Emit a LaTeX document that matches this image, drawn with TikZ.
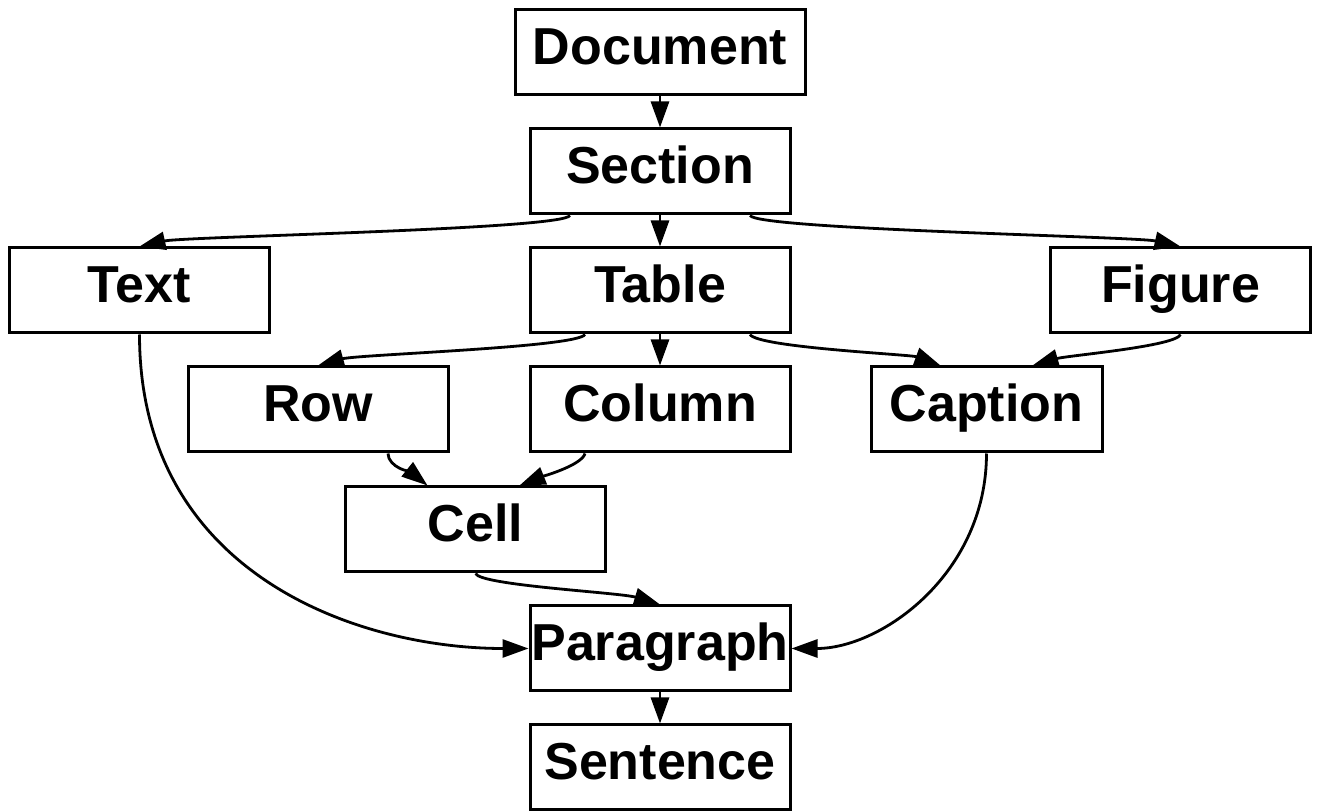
\documentclass[tikz,border=0pt]{standalone}
\usepackage{fontspec}
\setmainfont{Liberation Sans}
\usetikzlibrary{arrows.meta}
\begin{document}
\begin{tikzpicture}[x=0.5pt,y=-0.5pt,
  box/.style={draw,line width=1.5pt,minimum width=130pt,minimum height=42.5pt,inner sep=0pt,
    text height=18.5pt,text depth=6pt,
    font=\fontsize{26}{30}\selectfont\bfseries},
  edge/.style={line width=1.4pt,-{Triangle[length=13pt,width=9pt]}}]
\useasboundingbox (0,0) rectangle (1319,812);
\node[box,minimum width=145pt] (doc) at (660,52) {Document};
\node[box] (sec) at (660,171.5) {Section};
\node[box] (txt) at (139.5,290.5) {Text};
\node[box] (tab) at (660,290.5) {Table};
\node[box] (fig) at (1180.5,290.5) {Figure};
\node[box] (row) at (318,409.5) {Row};
\node[box] (col) at (660,409.5) {Column};
\node[box,minimum width=115.5pt] (cap) at (986.5,409.5) {Caption};
\node[box] (cell) at (475.5,529.5) {Cell};
\node[box] (par) at (660,648.5) {Paragraph};
\node[box] (sen) at (660,767.5) {Sentence};

\draw[edge] (doc) -- (sec);
\draw[edge] (sec) -- (tab);
\draw[edge] (tab) -- (col);
\draw[edge] (par) -- (sen);
\draw[edge] ([xshift=-45pt]sec.south) .. controls +(-8,14) and +(45,-10) .. (txt.north);
\draw[edge] ([xshift=45pt]sec.south) .. controls +(8,14) and +(-45,-10) .. (fig.north);
\draw[edge] ([xshift=-37.5pt]tab.south) .. controls +(-8,13) and +(40,-11) .. (row.north);
\draw[edge] ([xshift=45pt]tab.south) .. controls +(8,13) and +(-30,-11) .. ([xshift=-23pt]cap.north);
\draw[edge] (fig.south) .. controls +(-5,12) and +(35,-10) .. ([xshift=23pt]cap.north);
\draw[edge] ([xshift=35pt]row.south) .. controls +(0,14) and +(-15,-12) .. ([xshift=-24pt]cell.north);
\draw[edge] ([xshift=-37.5pt]col.south) .. controls +(-3,12) and +(20,-8) .. ([xshift=22pt]cell.north);
\draw[edge] (cell.south) .. controls +(5,12) and +(-40,-12) .. (par.north);
\draw[edge] (txt.south) .. controls +(0,240) and +(-170,0) .. (par.west);
\draw[edge] (cap.south) .. controls +(0,120) and +(90,0) .. (par.east);
\end{tikzpicture}
\end{document}
